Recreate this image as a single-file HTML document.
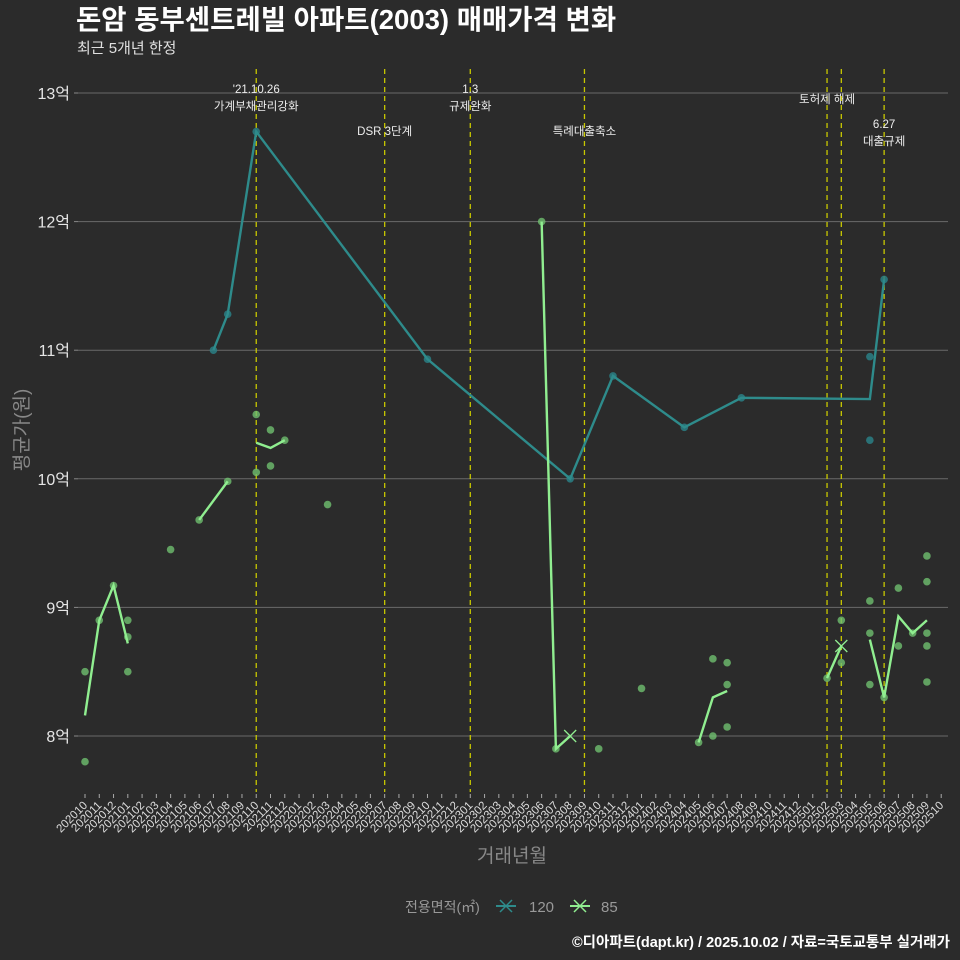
<!DOCTYPE html>
<html><head><meta charset="utf-8">
<style>
html,body{margin:0;padding:0;background:#2b2b2b;}
svg{display:block;font-family:"Liberation Sans","Noto Sans CJK KR",sans-serif;}
</style></head>
<body>
<svg id="chart" width="960" height="960" viewBox="0 0 960 960" xmlns="http://www.w3.org/2000/svg">
<rect width="960" height="960" fill="#2b2b2b"/>
<text x="76" y="29" font-size="27.5" font-weight="bold" fill="#ffffff">돈암 동부센트레빌 아파트(2003) 매매가격 변화</text>
<text x="77" y="53" font-size="15" fill="#e0e0e0">최근 5개년 한정</text>
<g id="grid"></g><g id="vlines"></g><g id="series"></g><g id="axes"></g>
<text x="28" y="430" font-size="19" fill="#888" transform="rotate(-90 28 430)" text-anchor="middle">평균가(원)</text>
<text x="512" y="862" font-size="19" fill="#888" text-anchor="middle">거래년월</text>
<g>
<text x="405" y="912" font-size="14" fill="#999">전용면적(㎡)</text>
<g>
<line x1="496" y1="906" x2="516" y2="906" stroke="#2e8b8b" stroke-width="2"/><path d="M500,900 L512,912 M512,900 L500,912" stroke="#2e8b8b" stroke-width="1.5"/>
<text x="529" y="912" font-size="15" fill="#999">120</text></g>
<g>
<line x1="570" y1="906" x2="590" y2="906" stroke="#90ee90" stroke-width="2"/><path d="M574,900 L586,912 M586,900 L574,912" stroke="#90ee90" stroke-width="1.5"/>
<text x="601" y="912" font-size="15" fill="#999">85</text></g>
</g>
<text x="950" y="947" font-size="14.5" font-weight="bold" fill="#fff" text-anchor="end">©디아파트(dapt.kr) / 2025.10.02 / 자료=국토교통부 실거래가</text>
</svg>
<script>
const months = [];
for (let i = 0; i <= 60; i++) { const t = 2020*12 + 9 + i; months.push(Math.floor(t/12) + String(t%12+1).padStart(2,'0')); }
const yTicks = [8, 9, 10, 11, 12, 13];
const yTickLabels = ['8억','9억','10억','11억','12억','13억'];
const eventMonths = ['202110','202207','202301','202309','202502','202503','202506'];
const eventLabels = [["'21.10.26","가계부채관리강화"],["DSR 3단계"],["1.3","규제완화"],["특례대출축소"],["토허제 해제"],[],["6.27","대출규제"]];
const eventLabelY = [93,135,93,135,103,null,128];
const teal120Line = [['202107',11.0],['202108',11.28],['202110',12.7],['202210',10.93],['202308',10.0],['202311',10.8],['202404',10.4],['202408',10.63],['202505',10.62],['202506',11.55]];
const teal120Dots = [['202107',11.0],['202108',11.28],['202110',12.7],['202210',10.93],['202308',10.0],['202311',10.8],['202404',10.4],['202408',10.63],['202505',10.95],['202505',10.3],['202506',11.55]];
const green85Segments = [
 [['202010',8.16],['202011',8.9],['202012',9.17],['202101',8.72]],
 [['202106',9.68],['202108',9.98]],
 [['202110',10.28],['202111',10.24],['202112',10.3]],
 [['202306',12.0],['202307',7.9],['202308',8.0]],
 [['202405',7.95],['202406',8.3],['202407',8.35]],
 [['202502',8.45],['202503',8.7]],
 [['202505',8.75],['202506',8.3],['202507',8.93],['202508',8.8],['202509',8.9]]
];
const green85Dots = [['202010',8.5],['202010',7.8],['202011',8.9],['202012',9.17],['202101',8.9],['202101',8.77],['202101',8.5],['202104',9.45],['202106',9.68],['202108',9.98],['202110',10.5],['202110',10.05],['202111',10.38],['202111',10.1],['202112',10.3],['202203',9.8],['202306',12.0],['202307',7.9],['202310',7.9],['202401',8.37],['202405',7.95],['202406',8.6],['202406',8.0],['202407',8.57],['202407',8.4],['202407',8.07],['202502',8.45],['202503',8.9],['202503',8.57],['202505',9.05],['202505',8.8],['202505',8.4],['202506',8.3],['202507',9.15],['202507',8.7],['202508',8.8],['202509',9.4],['202509',9.2],['202509',8.8],['202509',8.7],['202509',8.42]];
const green85Crosses = [['202308',8.0],['202503',8.7]];

const NS='http://www.w3.org/2000/svg';
const X0=85, XS=14.27, PL=78, PR=948, PT=65, PB=790;
function xScale(m){return X0 + months.indexOf(m)*XS;}
function yScale(v){return 736 - (v-8)*128.6;}
function mk(tag, attrs, parent){const e=document.createElementNS(NS,tag);for(const k in attrs)e.setAttribute(k,attrs[k]);parent.appendChild(e);return e;}
const grid=document.getElementById('grid'), vl=document.getElementById('vlines'), ser=document.getElementById('series'), ax=document.getElementById('axes');

yTicks.forEach((v,i)=>{
 const y=yScale(v);
 const l=mk('line',{x1:PL,x2:PR,y1:y,y2:y,stroke:'#6a6a6a','stroke-width':1},grid);
 
 
 mk('line',{x1:PL-4,x2:PL,y1:y,y2:y,stroke:'#888'},ax);
 const t=mk('text',{x:PL-8,y:y+6,'font-size':16,fill:'#e6e6e6','text-anchor':'end'},ax);
 t.textContent=yTickLabels[i];
 
 
});
months.forEach(m=>{
 const x=xScale(m);
 mk('line',{x1:x,x2:x,y1:794,y2:798,stroke:'#aaa'},ax);
 const t=mk('text',{x:x+3,y:806,'font-size':11.5,fill:'#ddd','text-anchor':'end',transform:`rotate(-45 ${x+3} 806)`},ax);
 t.textContent=m;
 
 
});
eventMonths.forEach((m,i)=>{
 const x=xScale(m);
 const l=mk('line',{x1:x,x2:x,y1:PT+4,y2:PB+2,stroke:'#c8c800','stroke-width':1.3,'stroke-dasharray':'5,4'},vl);
 
 
 eventLabels[i].forEach((s,j)=>{
  const t=mk('text',{x:x,y:eventLabelY[i]+j*17,'font-size':11.5,fill:'#eee','text-anchor':'middle'},vl);
  t.textContent=s;
  
  
 });
});
function pts(arr){return arr.map(p=>xScale(p[0])+','+yScale(p[1])).join(' ');}
green85Dots.forEach(p=>{
 const c=mk('circle',{cx:xScale(p[0]),cy:yScale(p[1]),r:3.8,fill:'#6fbf6f','fill-opacity':0.8},ser);
 
 
});
teal120Dots.forEach(p=>{
 const c=mk('circle',{cx:xScale(p[0]),cy:yScale(p[1]),r:3.8,fill:'#2a7f85','fill-opacity':0.85},ser);
 
 
});
const tl=mk('polyline',{points:pts(teal120Line),fill:'none',stroke:'#2e8b8b','stroke-width':2.4},ser);


green85Segments.forEach(s=>{
 const l=mk('polyline',{points:pts(s),fill:'none',stroke:'#90ee90','stroke-width':2.4},ser);
 
 
});
green85Crosses.forEach(p=>{
 const x=xScale(p[0]),y=yScale(p[1]);
 const c=mk('path',{d:`M${x-6},${y-6}L${x+6},${y+6}M${x+6},${y-6}L${x-6},${y+6}`,stroke:'#90ee90','stroke-width':1.3},ser);
 
 
});
</script>
</body></html>
